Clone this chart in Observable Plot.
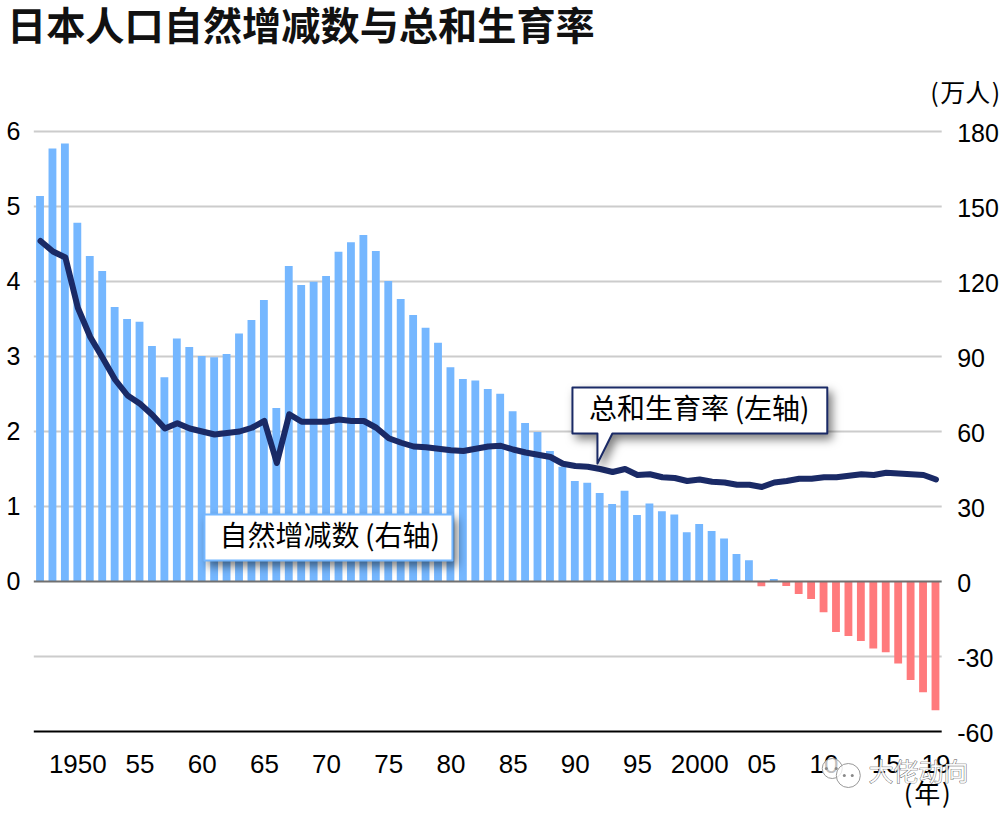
<!DOCTYPE html>
<html lang="zh">
<head>
<meta charset="utf-8">
<script src="https://cdn.jsdelivr.net/npm/d3@7"></script>
<script src="https://cdn.jsdelivr.net/npm/@observablehq/plot@0.6"></script>
<style>
html,body{margin:0;padding:0;background:#fff;width:1000px;height:816px;overflow:hidden}
#title{height:60px;box-sizing:border-box;padding:4px 0 0 7px;font:700 39.2px/46px "Liberation Sans","Noto Sans CJK SC",sans-serif;color:#111;white-space:nowrap}
svg{display:block}
</style>
</head>
<body>
<div id="title">日本人口自然增减数与总和生育率</div>
<div id="chart"></div>
<script>
const years = d3.range(1947, 2020);
const natural = [154,173,175,143.3,130,124,109.6,104.8,103.7,94,81.5,97,93.6,90,89.5,90.8,99,104.4,112.4,69.2,126,118.4,119.7,122,131.7,135.5,138.4,132,120,112.8,106.4,101.3,95.3,85.5,80.8,80.2,76.8,74.9,67.9,63.2,59.6,52,45.7,40,39.3,35.2,30.8,36.1,26.4,31,27.9,26.6,19.5,22.8,20,17,10.8,8.3,-2.1,0.8,-2,-5.2,-7.2,-12.5,-20.4,-22,-24,-27,-28.5,-33,-39.6,-44.5,-51.7];
const tfr = [4.54,4.40,4.32,3.65,3.26,2.98,2.69,2.48,2.37,2.22,2.04,2.11,2.04,2.00,1.96,1.98,2.00,2.05,2.14,1.58,2.23,2.13,2.13,2.13,2.16,2.14,2.14,2.05,1.91,1.85,1.80,1.79,1.77,1.75,1.74,1.77,1.80,1.81,1.76,1.72,1.69,1.66,1.57,1.54,1.53,1.50,1.46,1.50,1.42,1.43,1.39,1.38,1.34,1.36,1.33,1.32,1.29,1.29,1.26,1.32,1.34,1.37,1.37,1.39,1.39,1.41,1.43,1.42,1.45,1.44,1.43,1.42,1.36];
const xTickYears = [1950,1955,1960,1965,1970,1975,1980,1985,1990,1995,2000,2005,2010,2015,2019];
const xTickLabels = ["1950","55","60","65","70","75","80","85","90","95","2000","05","10","15","19"];
const rightTicks = [-60,-30,0,30,60,90,120,150,180];
const leftTicks = [0,30,60,90,120,150,180];
const leftLabels = ["0","1","2","3","4","5","6"];
const gridLines = [-30,30,60,90,120,150,180];

const barData = years.map((year,i)=>({year,value:natural[i]}));
const lineData = years.map((year,i)=>({year,value:tfr[i]*30}));

const boxNatural = [[1960.18,26.8],[1980.12,26.8],[1980.12,8.4],[1960.18,8.4]].map(([x,y])=>({x,y}));
const boxTfr = [[1989.77,77.6],[2010.26,77.6],[2010.26,59.2],[1992.98,59.2],[1991.78,47.2],[1991.78,59.2],[1989.77,59.2]].map(([x,y])=>({x,y}));

const cjk = '"Noto Sans CJK SC",sans-serif';
const shadow = "drop-shadow(4px 5px 5px rgba(0,0,0,0.5))";

const plot = Plot.plot({
  width:1000,
  height:756,
  marginTop:71,
  marginBottom:85,
  marginLeft:33.8,
  marginRight:58.3,
  style:{fontFamily:'"Liberation Sans",sans-serif',fontSize:"25px",color:"#000",background:"#fff",overflow:"visible"},
  x:{type:"linear",domain:[1946.5,2019.5]},
  y:{domain:[-60,180]},
  marks:[
    Plot.ruleY(gridLines,{stroke:"#cccccc",strokeWidth:2}),
    Plot.rectY(barData,{
      x1:d=>d.year-0.5,x2:d=>d.year+0.5,y1:0,y2:"value",
      insetLeft:2.3,insetRight:2.3,
      fill:d=>d.value<0?"#ff7a7c":"#75b7ff"
    }),
    Plot.ruleY([0],{stroke:"#707070",strokeWidth:2}),
    Plot.ruleY([-60],{stroke:"#000",strokeWidth:2}),
    Plot.line(lineData,{x:"year",y:"value",stroke:"#1a2a66",strokeWidth:6,strokeLinejoin:"round",strokeLinecap:"round"}),
    Plot.line(boxNatural,{x:"x",y:"y",curve:"linear-closed",fill:"#fff",stroke:"#75b7ff",strokeWidth:2,imageFilter:shadow}),
    Plot.line(boxTfr,{x:"x",y:"y",curve:"linear-closed",fill:"#fff",stroke:"#1a2a66",strokeWidth:2,imageFilter:shadow}),
    Plot.text(["自然增减数\u2009(右轴)"],{x:[1970.25],y:[17.6],fontFamily:cjk,fontSize:28,fill:"#000"}),
    Plot.text(["总和生育率\u2009(左轴)"],{x:[1999.97],y:[68.4],fontFamily:cjk,fontSize:28,fill:"#000"}),
    Plot.axisY({anchor:"left",ticks:leftTicks,tickSize:0,tickPadding:14,label:null,tickFormat:d=>leftLabels[leftTicks.indexOf(d)]}),
    Plot.axisY({anchor:"right",ticks:rightTicks,tickSize:0,tickPadding:15,dy:2,label:null,tickFormat:d=>String(d)}),
    Plot.axisX({ticks:xTickYears,tickSize:0,tickPadding:23,fontSize:26,label:null,tickFormat:d=>xTickLabels[xTickYears.indexOf(d)]}),
    Plot.text(["(\u200a万人\u200a)"],{x:[2019.5],y:[195],dx:58,textAnchor:"end",fontFamily:cjk,fontSize:25,fill:"#000"}),
    Plot.text(["(\u200a年\u200a)"],{x:[2018.3],y:[-85.4],fontFamily:cjk,fontSize:26,fill:"#000"}),
    Plot.dot([{x:2010.66,y:-74.8}],{x:"x",y:"y",r:10,fill:"#fff",fillOpacity:0.75,stroke:"#999",strokeWidth:1}),
    Plot.dot([{x:2011.95,y:-77.6}],{x:"x",y:"y",r:12,fill:"#fff",fillOpacity:0.75,stroke:"#999",strokeWidth:1}),
    Plot.dot([{x:2010.18,y:-74.8},{x:2010.98,y:-74.8},{x:2011.63,y:-77.6},{x:2012.27,y:-77.6}],{x:"x",y:"y",r:1.5,fill:"#888"}),
    Plot.text(["大佬动向"],{x:[2017.6],y:[-76.5],fontFamily:cjk,fontSize:25,fill:"#fff",fillOpacity:0.85,stroke:"#444",strokeWidth:0.7})
  ]
});
document.getElementById("chart").append(plot);
</script>
</body>
</html>
